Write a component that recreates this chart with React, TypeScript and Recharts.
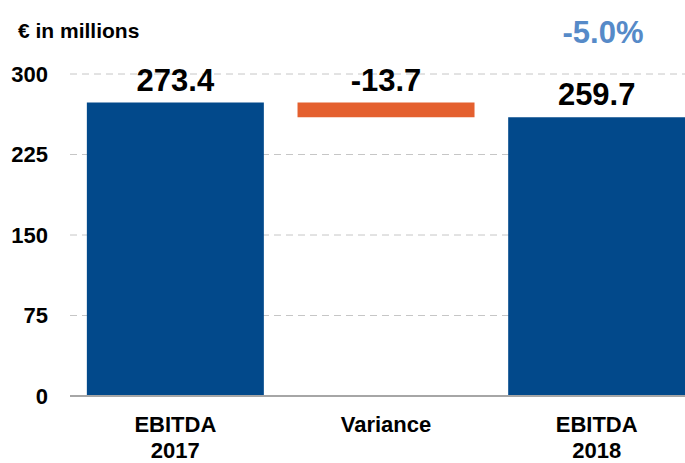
import { BarChart, Bar, XAxis, YAxis, CartesianGrid, Cell } from "recharts";

const CATEGORIES = ["EBITDA\n2017", "Variance", "EBITDA\n2018"];
const VALUES = [273.4, -13.7, 259.7];
const LABELS = ["273.4", "-13.7", "259.7"];
const COLORS = ["#02498b", "#e4602f", "#02498b"];
const Y_TICKS = [0, 75, 150, 225, 300];

const FONT = "'Liberation Sans', Arial, sans-serif";

// waterfall: the variance bar floats between the two totals
const data = CATEGORIES.map((name, i) => {
  const v = VALUES[i];
  const isDelta = i > 0 && i < VALUES.length - 1;
  const base = isDelta ? (v < 0 ? VALUES[i - 1] + v : VALUES[i - 1]) : 0;
  return { name, base, val: Math.abs(v), label: LABELS[i] };
});

const CatTick = (props: any) => {
  const { x, y, payload } = props;
  const lines = String(payload.value).split("\n");
  return (
    <text x={x} y={y} textAnchor="middle" fontSize={22} fontWeight="bold" fill="#000" fontFamily={FONT}>
      {lines.map((l, i) => (
        <tspan key={i} x={x} dy={i === 0 ? 36 : 26}>{l}</tspan>
      ))}
    </text>
  );
};

const TopLabel = (props: any) => {
  const { x, y, width, index } = props;
  return (
    <text x={x + width / 2} y={y - 12} textAnchor="middle" fontSize={31} fontWeight="bold" fill="#000" fontFamily={FONT}>
      {data[index].label}
    </text>
  );
};

export default function App() {
  return (
    <div style={{ position: "absolute", left: 0, top: 0, width: 685, height: 463, overflow: "hidden", background: "#fff" }}>
      <BarChart
        width={702}
        height={463}
        data={data}
        margin={{ top: 74, right: 0, bottom: 0, left: 8 }}
        barCategoryGap="8%"
      >
        <CartesianGrid vertical={false} stroke="#c6c6c6" strokeDasharray="7 5" />
        <XAxis
          dataKey="name"
          interval={0}
          height={67}
          tickSize={0}
          tickMargin={0}
          tick={<CatTick />}
          axisLine={{ stroke: "#a6a6a6", strokeWidth: 2 }}
        />
        <YAxis
          width={62}
          domain={[0, 300]}
          ticks={Y_TICKS}
          axisLine={false}
          tickLine={false}
          tickSize={0}
          tickMargin={22}
          tick={{ fontSize: 22, fontWeight: "bold", fill: "#000", fontFamily: FONT }}
        />
        <Bar dataKey="base" stackId="w" fill="transparent" isAnimationActive={false} />
        <Bar dataKey="val" stackId="w" isAnimationActive={false} label={<TopLabel />}>
          {data.map((d, i) => <Cell key={i} fill={COLORS[i]} />)}
        </Bar>
      </BarChart>
      <svg width={685} height={60} style={{ position: "absolute", left: 0, top: 0 }}>
        <text x={18} y={38} fontSize={21} fontWeight="bold" fill="#000" fontFamily={FONT}>€ in millions</text>
        <text x={603} y={43} textAnchor="middle" fontSize={31} fontWeight="bold" fill="#568ac8" fontFamily={FONT}>-5.0%</text>
      </svg>
    </div>
  );
}
